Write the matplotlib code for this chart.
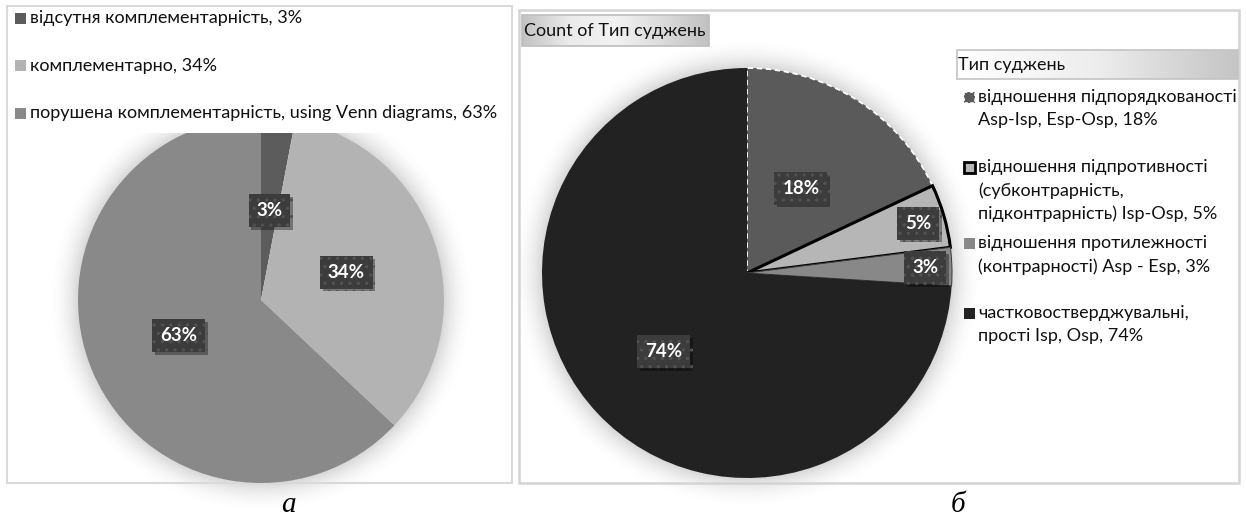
import matplotlib

matplotlib.use("Agg")
import matplotlib.patheffects as pe  # noqa: E402
import matplotlib.pyplot as plt  # noqa: E402
import numpy as np  # noqa: E402
from matplotlib.patches import Rectangle  # noqa: E402

W, H = 1246, 520

# panel (а): complementarity of judgements
a_names = [
    "відсутня комплементарність",
    "комплементарно",
    "порушена комплементарність, using Venn diagrams",
]
a_values = [3, 34, 63]
a_colors = ["#5c5c5c", "#b3b3b3", "#898989"]

# panel (б): count of judgement types
b_names = [
    ["відношення підпорядкованості", "Asp-Isp, Esp-Osp"],
    ["відношення підпротивності", "(субконтрарність,", "підконтрарність) Isp-Osp"],
    ["відношення протилежності", "(контрарності) Asp - Esp"],
    ["частковостверджувальні,", "прості Isp, Osp"],
]
b_values = [18, 5, 3, 74]
b_colors = ["#5a5a5a", "#b6b6b6", "#888888", "#222222"]

# how far out (fraction of radius) each data label sits
a_label_dist = [0.49, 0.49, 0.49]
b_label_dist = [0.49, 0.87, 0.87, 0.56]

TXT = 13  # legend / caption-box text size, pt

plt.rcParams["font.family"] = ["Lato", "DejaVu Sans"]
plt.rcParams["hatch.linewidth"] = 1.2

fig = plt.figure(figsize=(W / 100, H / 100), dpi=100)


def px_axes(x, y, w, h, z):
    """Axes placed in pixel coordinates measured from the top-left corner."""
    ax = fig.add_axes([x / W, 1 - (y + h) / H, w / W, h / H], zorder=z)
    ax.patch.set_visible(False)
    return ax


def pixel_canvas(z):
    ax = px_axes(0, 0, W, H, z)
    ax.set_xlim(0, W)
    ax.set_ylim(H, 0)
    ax.axis("off")
    return ax


bg = pixel_canvas(0)
bg.add_patch(Rectangle((7, 6), 505, 477, fill=False, ec="#d9d9d9", lw=1.5))
bg.add_patch(Rectangle((519, 10), 720, 473, fill=False, ec="#d4d4d4", lw=1.8))

# soft glow round both pies
pies = [(261, 300, 183), (747, 273, 205)]
yy, xx = np.mgrid[0:H, 0:W] + 0.5
glow = np.zeros((H, W))
for cx, cy, r in pies:
    d = np.hypot(xx - cx, yy - cy) - r
    g = np.clip(1 - d / 30, 0, 1) * (d > -2)
    glow = np.maximum(glow, 0.28 * g ** 2)
rgba = np.zeros((H, W, 4))
rgba[..., :3] = 0.45
rgba[..., 3] = glow
bg.imshow(rgba, extent=(0, W, H, 0), aspect="auto", interpolation="bilinear")
bg.set_xlim(0, W)
bg.set_ylim(H, 0)


def draw_pie(cx, cy, r, values, colors, dists):
    ax = px_axes(cx - r, cy - r, 2 * r, 2 * r, 1)
    wedges, _ = ax.pie(values, colors=colors, startangle=90, counterclock=False,
                       wedgeprops=dict(linewidth=0))
    ax.set_xlim(-1, 1)
    ax.set_ylim(-1, 1)
    ax.set_aspect("auto")
    for w, v, dist in zip(wedges, values, dists):
        ang = np.deg2rad((w.theta1 + w.theta2) / 2)
        t = ax.text(dist * np.cos(ang), dist * np.sin(ang), f"{v}%", ha="center", va="center",
                    color="white", fontsize=13.5, fontweight="bold", zorder=5,
                    bbox=dict(boxstyle="square,pad=0.42", fc="#3c3c3c", ec="#525252", lw=0, hatch=".."))
        t.get_bbox_patch().set_path_effects(
            [pe.SimplePatchShadow(offset=(2, -2), shadow_rgbFace="black", alpha=0.35), pe.Normal()])
    return ax, wedges


ax_a, wedges_a = draw_pie(*pies[0], a_values, a_colors, a_label_dist)
ax_b, wedges_b = draw_pie(*pies[1], b_values, b_colors, b_label_dist)

# edge styling of the highlighted slices in (б)
wedges_b[0].set(edgecolor="white", linewidth=1.3, linestyle=(0, (3, 2)))
wedges_b[1].set(edgecolor="black", linewidth=2.2)
wedges_b[2].set(edgecolor="#3a3a3a", linewidth=0.7)

fg = pixel_canvas(2)

# legend of (а) sits on a white band over the top of the pie
fg.add_patch(Rectangle((8, 7), 503, 126, fc="white", ec="none"))
for i, (name, v, c) in enumerate(zip(a_names, a_values, a_colors)):
    y = 18 + 47.5 * i
    fg.add_patch(Rectangle((15, y - 5.5), 11, 11, fc=c, ec="none"))
    fg.text(30, y, f"{name}, {v}%", ha="left", va="center", fontsize=TXT, color="#111111")


def gradient_box(x0, x1, y0, y1, stops, ec):
    ramp = np.interp(np.linspace(0, 1, 200), np.linspace(0, 1, len(stops)), stops)
    img = np.repeat(ramp[None, :, None], 3, axis=2)
    fg.imshow(img, extent=(x0, x1, y1, y0), aspect="auto", interpolation="bilinear", zorder=1)
    fg.add_patch(Rectangle((x0, y0), x1 - x0, y1 - y0, fill=False, ec=ec, lw=1.2, zorder=2))


gradient_box(522, 709, 15, 46, [0.76, 0.92, 0.95, 0.86, 0.76], "#bdbdbd")
fg.text(524, 31, "Count of Тип суджень", ha="left", va="center", fontsize=TXT, color="#111111", zorder=3)

gradient_box(957, 1238, 50, 79, [1.0, 0.93, 0.77], "#c4c4c4")
fg.text(958, 65, "Тип суджень", ha="left", va="center", fontsize=TXT, color="#111111", zorder=3)

first_line = [97, 167, 243, 313]
for lines, v, c, y in zip(b_names, b_values, b_colors, first_line):
    lines = lines[:-1] + [f"{lines[-1]}, {v}%"]
    for k, line in enumerate(lines):
        fg.text(978, y + 23.3 * k, line, ha="left", va="center", fontsize=TXT, color="#111111")
marker_style = [
    dict(ec="white", lw=1.2, ls=(0, (2, 1.5))),
    dict(ec="black", lw=2.0),
    dict(ec="none"),
    dict(ec="none"),
]
for c, y, st in zip(b_colors, first_line, marker_style):
    fg.add_patch(Rectangle((964, y - 5.5), 11, 11, fc=c, zorder=3, **st))
fg.set_xlim(0, W)
fg.set_ylim(H, 0)

for x, s in [(288, "а"), (958, "б")]:
    fg.text(x, 505, s, ha="center", va="center", fontsize=21, fontstyle="italic",
            family=["Liberation Serif", "DejaVu Serif"], color="black")

fig.savefig("out.png", dpi=100)
plt.close(fig)
